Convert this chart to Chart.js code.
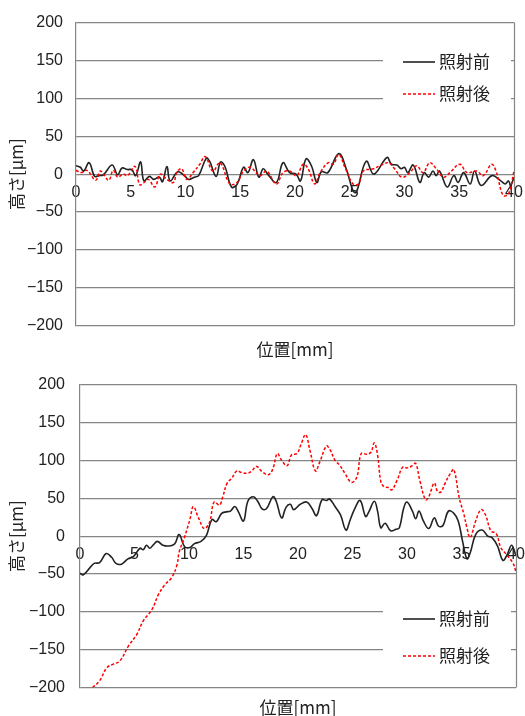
<!DOCTYPE html>
<html>
<head>
<meta charset="utf-8">
<script src="https://cdn.jsdelivr.net/npm/chart.js@4/dist/chart.umd.min.js"></script>
<style>
html, body { margin: 0; padding: 0; background: #fff; overflow: hidden; }
.box { position: absolute; left: 0; width: 525px; }
</style>
</head>
<body>
<div class="box" style="top:0;height:360px"><canvas id="chartTop" width="525" height="360"></canvas></div>
<div class="box" style="top:360px;height:358px"><canvas id="chartBottom" width="525" height="358"></canvas></div>
<script>
// position [mm], height [um]
var seriesNames = ['照射前', '照射後'];
var xTicks = [0, 5, 10, 15, 20, 25, 30, 35, 40];
var yTicks = [-200, -150, -100, -50, 0, 50, 100, 150, 200];

var topBefore = [[0,11],[0.4,9],[0.7,4],[1.2,15],[1.7,-3],[2.1,-2],[2.5,-1],[3.3,12],[3.8,-1],[4.2,8],[4.7,6],[5.1,6],[5.45,-2],[5.9,16],[6.2,-9],[6.7,-3],[7.1,-7],[7.6,-4],[7.9,-10],[8.3,10],[8.6,-9],[9.3,3],[9.9,-2],[10.3,-7],[10.8,-4],[11.2,-2],[11.9,21],[12.2,17],[12.8,-3],[13.2,16],[13.6,10],[14.2,-17],[14.7,-14],[15.3,9],[15.7,2],[16.2,19],[16.7,-4],[17.1,7],[17.5,0],[18.3,-11],[18.9,15],[19.5,2],[20.1,0],[20.5,-9],[21,20],[21.5,11],[22,-11],[22.4,3],[23,2],[24,27],[24.7,6],[25.3,-22],[25.6,-24],[26.5,17],[27.2,0],[28.4,22],[28.8,13],[29.3,12],[29.7,7],[30,9],[30.3,2],[30.8,12],[31.4,-11],[31.8,2],[32.2,-4],[32.6,4],[32.9,-2],[33.2,4],[33.9,-17],[34.5,-2],[34.9,-11],[35.4,2],[36,-13],[36.4,4],[37,-15],[38,-2],[38.8,-9],[39.2,-13],[39.5,-9],[39.7,-15],[40,-4]];
var topAfter = [[0,5],[0.5,2],[1,5],[1.8,-8],[2.2,4],[2.5,0],[3.0,-8],[3.4,5],[3.8,-4],[4.3,0],[4.7,-2],[5.4,10],[5.8,-14],[6.15,-12],[6.6,-7],[7.2,-17],[7.7,0],[8.3,-7],[8.9,-11],[9.2,2],[9.65,7],[10.1,-7],[10.7,2],[11.3,13],[11.8,23],[12.5,4],[13.15,15],[14.05,-13],[14.7,-11],[15.3,4],[15.9,9],[16.8,-2],[17.4,4],[18.3,-13],[18.9,2],[19.5,4],[20.15,-2],[20.75,13],[21.2,7],[21.8,-13],[22.3,2],[23.05,15],[23.5,13],[24.0,26],[24.55,9],[25.3,-13],[25.8,-13],[26.25,4],[27.15,7],[27.75,11],[28.5,15],[29.1,7],[29.75,-4],[30.5,2],[31.1,11],[31.7,2],[32.3,15],[32.9,7],[33.55,-4],[34.15,2],[35.05,13],[35.7,2],[36.6,4],[37.2,-2],[37.95,13],[38.4,2],[39.0,-28],[39.5,-26],[40,4]];

var bottomBefore = [[0,-49],[0.3,-51],[0.9,-42],[1.3,-36],[1.8,-35],[2.4,-23],[2.9,-28],[3.3,-36],[3.8,-37],[4.4,-30],[4.9,-27],[5.5,-16],[5.8,-18],[6.1,-12],[6.4,-16],[6.7,-12],[7.1,-7],[7.6,-12],[8.2,-13],[8.7,-10],[9.1,2],[9.6,-14],[10.1,-15],[10.5,-10],[11.1,-7],[11.6,1],[12.1,22],[12.5,19],[13.0,30],[13.4,32],[13.8,33],[14.2,39],[14.5,33],[15.0,20],[15.4,46],[15.9,52],[16.3,46],[16.7,36],[17.1,36],[17.7,52],[18.0,46],[18.5,24],[18.9,38],[19.3,42],[19.6,35],[20.2,42],[20.8,45],[21.3,36],[21.7,27],[22.2,48],[22.6,47],[22.9,49],[23.4,39],[23.9,28],[24.4,8],[24.8,22],[25.2,36],[25.7,47],[26.2,26],[26.5,32],[27.0,46],[27.3,33],[27.6,11],[28.0,17],[28.5,7],[29.0,9],[29.3,11],[29.7,37],[30.0,45],[30.5,33],[30.8,23],[31.1,33],[31.5,20],[32.0,10],[32.5,24],[32.9,13],[33.3,14],[33.8,33],[34.3,30],[34.7,20],[35.1,-7],[35.5,-30],[35.8,-22],[36.3,2],[36.9,8],[37.4,0],[37.8,-2],[38.3,-13],[38.8,-32],[39.2,-24],[39.6,-12],[40,-26]];
var bottomAfter = [[1.15,-200],[1.8,-191],[2.45,-174],[3.05,-169],[3.65,-165],[4.45,-145],[5.2,-130],[5.8,-112],[6.6,-97],[7.2,-77],[7.8,-64],[8.4,-55],[8.9,-38],[9.1,-21],[9.6,-1],[10.1,23],[10.4,39],[10.9,23],[11.4,10],[11.9,19],[12.3,45],[12.8,41],[13.1,52],[13.5,70],[13.9,76],[14.4,86],[14.8,84],[15.3,83],[15.7,85],[16.2,92],[16.7,85],[17.3,81],[17.7,89],[18.1,109],[18.5,100],[19.0,93],[19.4,107],[19.9,109],[20.3,122],[20.7,134],[21.1,113],[21.6,86],[22.0,98],[22.6,119],[22.9,115],[23.4,100],[23.8,94],[24.3,83],[24.9,71],[25.4,78],[25.8,109],[26.3,108],[26.7,111],[27.0,123],[27.3,107],[27.6,72],[27.9,65],[28.3,64],[28.6,61],[29.1,74],[29.6,91],[30.0,90],[30.5,93],[30.8,96],[31.2,72],[31.7,48],[32.0,52],[32.5,70],[32.8,59],[33.1,58],[33.5,70],[34.0,83],[34.3,88],[34.8,50],[35.2,30],[35.5,11],[35.8,-2],[36.3,20],[36.8,35],[37.2,28],[37.7,7],[38.2,3],[38.6,-15],[39.1,-24],[39.7,-35],[40,-47]];

var tickFont = { family: '"Liberation Sans", Arial, sans-serif', size: 16 };
var jpFont = { family: '"Noto Sans CJK JP", sans-serif', size: 17, weight: 'normal' };
var gridColor = '#858585';

function toPoints(arr) {
    return arr.map(function(p) { return { x: p[0], y: p[1] }; });
}

var frameAndLegend = {
    id: 'frameAndLegend',
    beforeDatasetsDraw: function(chart) {
        var a = chart.chartArea, ctx = chart.ctx;
        ctx.save();
        ctx.strokeStyle = gridColor;
        ctx.lineWidth = 1.2;
        ctx.beginPath();
        ctx.moveTo(Math.round(a.right) + 0.5, a.top);
        ctx.lineTo(Math.round(a.right) + 0.5, a.bottom);
        ctx.stroke();
        ctx.restore();
    },
    afterDraw: function(chart, args, opts) {
        var ctx = chart.ctx;
        ctx.save();
        ctx.fillStyle = '#fff';
        ctx.fillRect(opts.x, opts.y, opts.w, opts.h);
        ctx.font = jpFont.size + 'px ' + jpFont.family;
        ctx.textBaseline = 'middle';
        ctx.fillStyle = '#222';
        chart.data.datasets.forEach(function(ds, i) {
            var cy = opts.y + opts.row0 + i * opts.gap;
            ctx.strokeStyle = ds.borderColor;
            ctx.lineWidth = ds.borderWidth;
            ctx.setLineDash(ds.borderDash || []);
            ctx.beginPath();
            ctx.moveTo(opts.x + 20, cy);
            ctx.lineTo(opts.x + 52, cy);
            ctx.stroke();
            ctx.fillText(ds.label, opts.x + 56, cy);
        });
        ctx.restore();
    }
};

function makeChart(id, before, after, lay) {
    var ctx = document.getElementById(id).getContext('2d');
    return new Chart(ctx, {
        type: 'line',
        data: {
            datasets: [{
                label: seriesNames[0],
                data: toPoints(before),
                borderColor: '#222222',
                borderWidth: 1.6,
                pointRadius: 0,
                tension: 0.4,
                order: 1
            }, {
                label: seriesNames[1],
                data: toPoints(after),
                borderColor: '#ff0000',
                borderWidth: 1.5,
                borderDash: [3, 2],
                pointRadius: 0,
                tension: 0.4,
                order: 0
            }]
        },
        options: {
            responsive: false,
            animation: false,
            events: [],
            layout: { padding: { top: lay.top, right: lay.right, left: 0, bottom: 0 } },
            plugins: {
                legend: { display: false },
                tooltip: { enabled: false },
                title: {
                    display: true,
                    position: 'bottom',
                    fullSize: false,
                    text: '位置[mm]',
                    color: '#222',
                    font: jpFont,
                    padding: { top: lay.titlePad, bottom: 0 }
                },
                frameAndLegend: lay.legend
            },
            scales: {
                x: {
                    type: 'linear',
                    position: { y: 0 },
                    min: 0,
                    max: 40,
                    afterBuildTicks: function(s) { s.ticks = xTicks.map(function(v) { return { value: v }; }); },
                    afterFit: function(s) { s.paddingLeft = 0; s.paddingRight = 0; },
                    ticks: { font: tickFont, color: '#222', padding: 1, maxRotation: 0, autoSkip: false },
                    grid: { display: false },
                    border: { display: false }
                },
                y: {
                    type: 'linear',
                    min: -200,
                    max: 200,
                    afterBuildTicks: function(s) { s.ticks = yTicks.map(function(v) { return { value: v }; }); },
                    afterFit: function(s) { s.width = lay.left; },
                    ticks: {
                        font: tickFont,
                        color: '#222',
                        padding: lay.tickPad,
                        callback: function(v) { return String(v).replace('-', '\u2212'); }
                    },
                    grid: { color: gridColor, lineWidth: 1.2, drawTicks: false },
                    border: { color: gridColor, width: 1.2 },
                    title: {
                        display: true,
                        text: '高さ[μm]',
                        color: '#222',
                        font: jpFont,
                        padding: { top: 6, bottom: 0 }
                    }
                }
            }
        },
        plugins: [frameAndLegend]
    });
}

makeChart('chartTop', topBefore, topAfter, {
    top: 17, right: 11, left: 76, tickPad: 13, titlePad: 14,
    legend: { x: 383, y: 44, w: 128, h: 66, row0: 18, gap: 32 }
});
makeChart('chartBottom', bottomBefore, bottomAfter, {
    top: 23, right: 9, left: 80, tickPad: 15, titlePad: 10,
    legend: { x: 383, y: 241, w: 128, h: 66, row0: 18, gap: 37 }
});
</script>
</body>
</html>
